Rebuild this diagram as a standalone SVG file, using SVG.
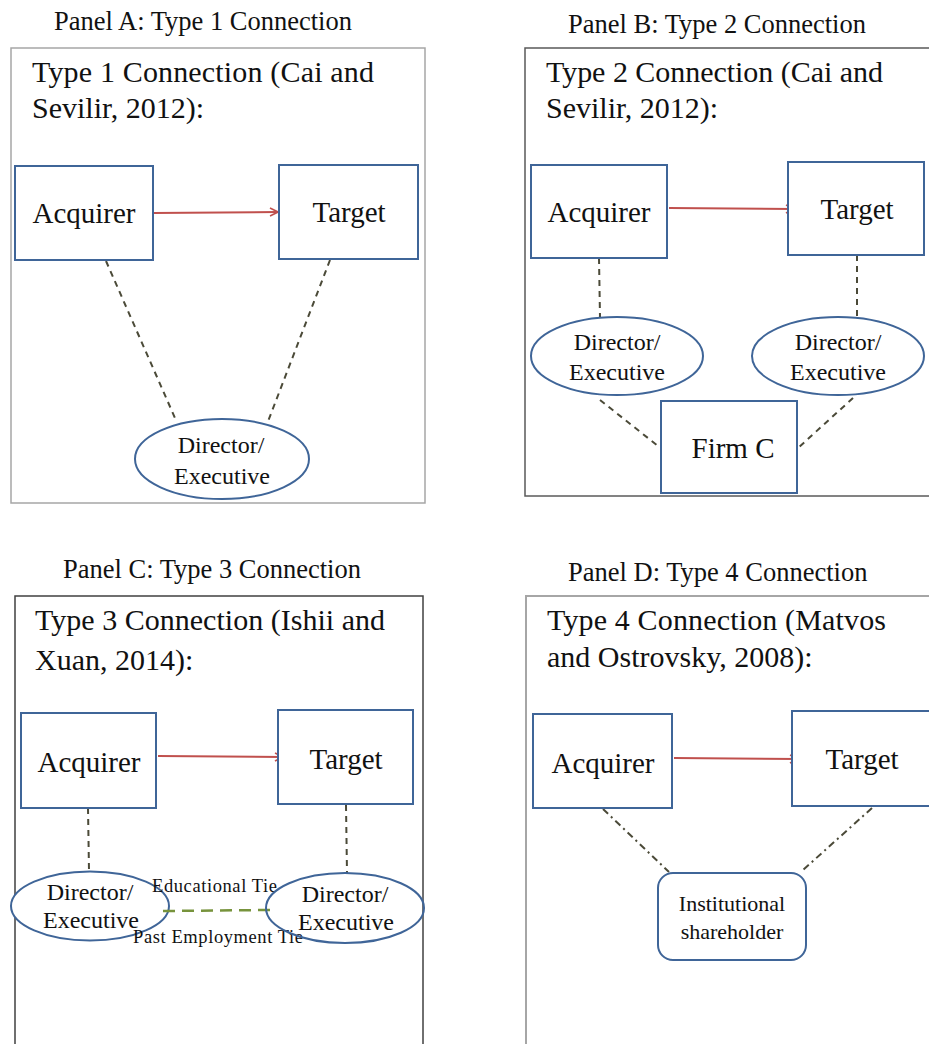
<svg xmlns="http://www.w3.org/2000/svg" width="929" height="1044" viewBox="0 0 929 1044">
  <defs>
    <marker id="arrowOpen" viewBox="0 0 10 10" refX="9" refY="5" markerWidth="10" markerHeight="10" markerUnits="userSpaceOnUse" orient="auto">
      <path d="M1,1 L9,5 L1,9" fill="none" stroke="#c0504d" stroke-width="1.6"/>
    </marker>
  </defs>
  <style>
    text { font-family: "Liberation Serif", "Times New Roman", serif; fill: #111; }
    .title { font-size: 26.5px; }
    .head { font-size: 30px; }
    .big { font-size: 29px; text-anchor: middle; }
    .mid { font-size: 24px; text-anchor: middle; }
    .small { font-size: 22px; text-anchor: middle; }
    .tie { font-size: 18.5px; }
    .panel { fill: #fff; }
    .node { fill: #fff; stroke: #3f6598; stroke-width: 2; }
    .ell { fill: #fff; stroke: #3f6598; stroke-width: 2; }
    .acq { stroke: #c0504d; stroke-width: 2; fill: none; marker-end: url(#arrowOpen); }
    .dash { stroke: #4b4a38; stroke-width: 2; stroke-dasharray: 6 5; fill: none; }
    .dashdot { stroke: #4b4a38; stroke-width: 2; stroke-dasharray: 7 4 2 4; fill: none; }
    .tieline { stroke: #77933c; stroke-width: 2.5; stroke-dasharray: 12 7; fill: none; }
  </style>

  <rect width="929" height="1044" fill="#fff"/>

  <!-- ===== Panel A ===== -->
  <g id="panelA">
    <text class="title" x="54" y="30">Panel A: Type 1 Connection</text>
    <rect class="panel" x="11" y="48" width="414" height="455" stroke="#a6a6a6" stroke-width="1.5"/>
    <text class="head" x="32" y="82" textLength="342" lengthAdjust="spacing">Type 1 Connection (Cai and</text>
    <text class="head" x="32" y="118">Sevilir, 2012):</text>
  </g>
  <g id="connectorsA">
    <line class="dash" x1="106" y1="261" x2="175" y2="418"/>
    <line class="dash" x1="330" y1="260" x2="267" y2="424"/>
    <line class="acq" x1="153" y1="213" x2="278" y2="212"/>
  </g>
  <g id="a-acquirer">
    <rect class="node" x="15" y="166" width="138" height="94"/>
    <text class="big" x="84" y="223">Acquirer</text>
  </g>
  <g id="a-target">
    <rect class="node" x="279" y="165" width="139" height="94"/>
    <text class="big" x="349" y="222">Target</text>
  </g>
  <g id="a-director">
    <ellipse class="ell" cx="222" cy="459" rx="87" ry="40"/>
    <text class="mid" x="221" y="453">Director/</text>
    <text class="mid" x="222" y="484">Executive</text>
  </g>

  <!-- ===== Panel B ===== -->
  <g id="panelB">
    <text class="title" x="568" y="33">Panel B: Type 2 Connection</text>
    <rect class="panel" x="525" y="48" width="420" height="448" stroke="#5a5a5a" stroke-width="1.5"/>
    <text class="head" x="546" y="82" textLength="337" lengthAdjust="spacing">Type 2 Connection (Cai and</text>
    <text class="head" x="546" y="118">Sevilir, 2012):</text>
  </g>
  <g id="connectorsB">
    <line class="dash" x1="599" y1="258" x2="600" y2="317"/>
    <line class="dash" x1="857" y1="255" x2="857" y2="317"/>
    <line class="dash" x1="600" y1="400" x2="658" y2="446"/>
    <line class="dash" x1="853" y1="398" x2="798" y2="448"/>
    <line class="acq" x1="669" y1="208" x2="794" y2="209"/>
  </g>
  <g id="b-acquirer">
    <rect class="node" x="531" y="165" width="136" height="93"/>
    <text class="big" x="599" y="222">Acquirer</text>
  </g>
  <g id="b-target">
    <rect class="node" x="788" y="162" width="136" height="93"/>
    <text class="big" x="857" y="219">Target</text>
  </g>
  <g id="b-director-acq">
    <ellipse class="ell" cx="617" cy="356" rx="86" ry="39"/>
    <text class="mid" x="617" y="350">Director/</text>
    <text class="mid" x="617" y="380">Executive</text>
  </g>
  <g id="b-director-tgt">
    <ellipse class="ell" cx="838" cy="356" rx="86" ry="39"/>
    <text class="mid" x="838" y="350">Director/</text>
    <text class="mid" x="838" y="380">Executive</text>
  </g>
  <g id="b-firmc">
    <rect class="node" x="661" y="401" width="136" height="92"/>
    <text class="big" x="733" y="458">Firm C</text>
  </g>

  <!-- ===== Panel C ===== -->
  <g id="panelC">
    <text class="title" x="63" y="578">Panel C: Type 3 Connection</text>
    <rect class="panel" x="15" y="596" width="408" height="460" stroke="#404040" stroke-width="1.5"/>
    <text class="head" x="35" y="630" textLength="350" lengthAdjust="spacing">Type 3 Connection (Ishii and</text>
    <text class="head" x="35" y="670">Xuan, 2014):</text>
  </g>
  <g id="connectorsC">
    <line class="dash" x1="88" y1="808" x2="89" y2="871"/>
    <line class="dash" x1="346" y1="805" x2="347" y2="873"/>
    <line class="acq" x1="158" y1="756" x2="283" y2="757"/>
  </g>
  <g id="c-acquirer">
    <rect class="node" x="21" y="713" width="135" height="95"/>
    <text class="big" x="89" y="772">Acquirer</text>
  </g>
  <g id="c-target">
    <rect class="node" x="278" y="710" width="135" height="94"/>
    <text class="big" x="346" y="769">Target</text>
  </g>
  <g id="c-director-acq">
    <ellipse class="ell" cx="90" cy="906" rx="79" ry="34.5"/>
    <text class="mid" x="90" y="900">Director/</text>
    <text class="mid" x="91" y="928">Executive</text>
  </g>
  <g id="c-ties">
    <line class="tieline" x1="163" y1="911" x2="270" y2="910"/>
    <text class="tie" x="152" y="892" textLength="125" lengthAdjust="spacing">Educational  Tie</text>
    <text class="tie" x="133" y="943" textLength="170" lengthAdjust="spacing">Past Employment  Tie</text>
  </g>
  <g id="c-director-tgt">
    <ellipse class="ell" cx="345" cy="908" rx="79" ry="35" style="fill:none"/>
    <text class="mid" x="345" y="902">Director/</text>
    <text class="mid" x="346" y="930">Executive</text>
  </g>

  <!-- ===== Panel D ===== -->
  <g id="panelD">
    <text class="title" x="568" y="581">Panel D: Type 4 Connection</text>
    <rect class="panel" x="526" y="596" width="420" height="460" stroke="#a6a6a6" stroke-width="2"/>
    <text class="head" x="547" y="630" textLength="339" lengthAdjust="spacing">Type 4 Connection (Matvos</text>
    <text class="head" x="547" y="667">and Ostrovsky, 2008):</text>
  </g>
  <g id="connectorsD">
    <line class="dashdot" x1="603" y1="809" x2="669" y2="872"/>
    <line class="dashdot" x1="872" y1="808" x2="803" y2="870"/>
    <line class="acq" x1="674" y1="758" x2="798" y2="759"/>
  </g>
  <g id="d-acquirer">
    <rect class="node" x="533" y="714" width="139" height="94"/>
    <text class="big" x="603" y="773">Acquirer</text>
  </g>
  <g id="d-target">
    <rect class="node" x="792" y="711" width="140" height="95"/>
    <text class="big" x="862" y="769">Target</text>
  </g>
  <g id="d-institutional">
    <rect class="node" x="658" y="873" width="148" height="87" rx="15" ry="15" stroke-width="3"/>
    <text class="small" x="732" y="911">Institutional</text>
    <text class="small" x="732" y="939">shareholder</text>
  </g>
</svg>
